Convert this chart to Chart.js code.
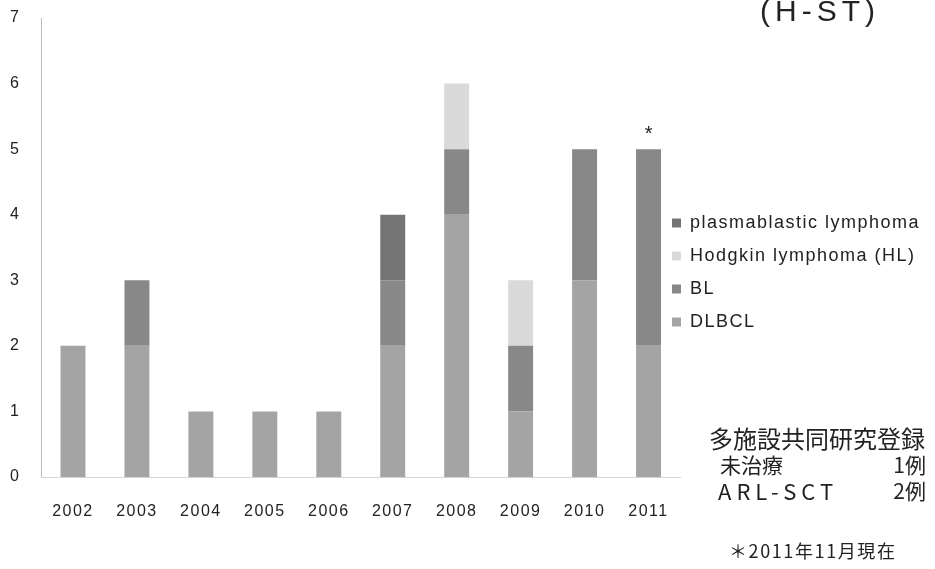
<!DOCTYPE html>
<html>
<head>
<meta charset="utf-8">
<script src="https://cdn.jsdelivr.net/npm/chart.js@4/dist/chart.umd.min.js"></script>
<style>
  body { margin: 0; background: #fff; }
  #wrap { position: relative; width: 935px; height: 569px; overflow: hidden; }
  .note { position: absolute; color: #222; white-space: pre; font-family: "Noto Sans CJK JP", sans-serif; line-height: 1; }
</style>
</head>
<body>
<div id="wrap">
  <canvas id="myChart" width="935" height="569"></canvas>
  <div class="note" style="left:760px; top:-4px; font-family:'Liberation Sans'; font-size:30px; letter-spacing:5px;">(H-ST)</div>
  <div class="note" style="left:709px; top:426px; font-size:24px;">多施設共同研究登録</div>
  <div class="note" style="left:720px; top:454px; font-size:21px;">未治療</div>
  <div class="note" style="right:9px; top:454px; font-size:21px;">1例</div>
  <div class="note" style="left:718px; top:479px; font-size:22px; letter-spacing:5px;">ARL-SCT</div>
  <div class="note" style="right:9px; top:480px; font-size:21px;">2例</div>
  <div class="note" style="left:729px; top:541px; font-size:18px; letter-spacing:1.6px;">＊2011年11月現在</div>
</div>
<script>
const years = ["2002", "2003", "2004", "2005", "2006", "2007", "2008", "2009", "2010", "2011"];
const dlbcl = [2, 2, 1, 1, 1, 2, 4, 1, 3, 2];
const bl = [0, 1, 0, 0, 0, 1, 1, 1, 2, 3];
const hodgkin = [0, 0, 0, 0, 0, 0, 1, 1, 0, 0];
const plasmablastic = [0, 0, 0, 0, 0, 1, 0, 0, 0, 0];
const starredYear = "2011"; //still counting at the time

const font = "'Liberation Sans', Arial, sans-serif";

//canvas text in the slide was spaced out a little
const spacing = {
  id: "spacing",
  beforeDraw: chart => { chart.ctx.letterSpacing = "1.5px"; },
};

//legend sits in the gap right next to the last bar;
//its box is widened to the edge so the spaced-out labels aren't clipped
const legendSpot = {
  id: "legendSpot",
  afterLayout: chart => {
    const legend = chart.legend;
    legend.left = 657;
    legend.top = 199;
    legend.right = chart.width;
    legend.width = legend.right - legend.left;
  },
};

//asterisk above the 2011 stack
const starMark = {
  id: "starMark",
  afterDatasetsDraw: chart => {
    const i = years.indexOf(starredYear);
    const total = dlbcl[i] + bl[i] + hodgkin[i] + plasmablastic[i];
    const x = chart.scales.x.getPixelForValue(i);
    const y = chart.scales.y.getPixelForValue(total);
    const ctx = chart.ctx;
    ctx.save();
    ctx.letterSpacing = "0px";
    ctx.font = `20px ${font}`;
    ctx.fillStyle = "#222";
    ctx.textAlign = "center";
    ctx.textBaseline = "middle";
    ctx.fillText("*", x, y - 15);
    ctx.restore();
  },
};

const bar = (label, data, color) => ({
  label, data, backgroundColor: color, borderWidth: 0,
  categoryPercentage: 1, barPercentage: 0.39,
});

new Chart(document.getElementById("myChart"), {
  type: "bar",
  data: {
    labels: years,
    datasets: [
      bar("DLBCL", dlbcl, "#a4a4a4"),
      bar("BL", bl, "#888888"),
      bar("Hodgkin lymphoma (HL)", hodgkin, "#dadada"),
      bar("plasmablastic lymphoma", plasmablastic, "#747474"),
    ],
  },
  options: {
    responsive: false,
    animation: false,
    layout: { padding: { top: 18, right: 31, bottom: 0, left: 10 } },
    plugins: {
      tooltip: { enabled: false },
      legend: {
        position: "right",
        align: "start",
        reverse: true,
        labels: {
          boxWidth: 9, boxHeight: 9, padding: 15,
          color: "#222", font: { family: font, size: 18 },
        },
      },
    },
    scales: {
      x: {
        stacked: true,
        grid: { display: false },
        border: { display: true, color: "#d4d4d4", dash: [1, 6] },
        ticks: { color: "#222", padding: 17, font: { family: font, size: 16 } },
        afterFit: s => { s.height = 92; },
      },
      y: {
        stacked: true,
        min: 0, max: 7,
        grid: { display: false },
        border: { display: true, color: "#bdbdbd", dash: [1, 4] },
        ticks: {
          stepSize: 1, color: "#222", padding: 0, crossAlign: "far",
          font: { family: font, size: 16 },
        },
        afterFit: s => { s.width = 31; },
      },
    },
  },
  plugins: [spacing, legendSpot, starMark],
});
</script>
</body>
</html>
